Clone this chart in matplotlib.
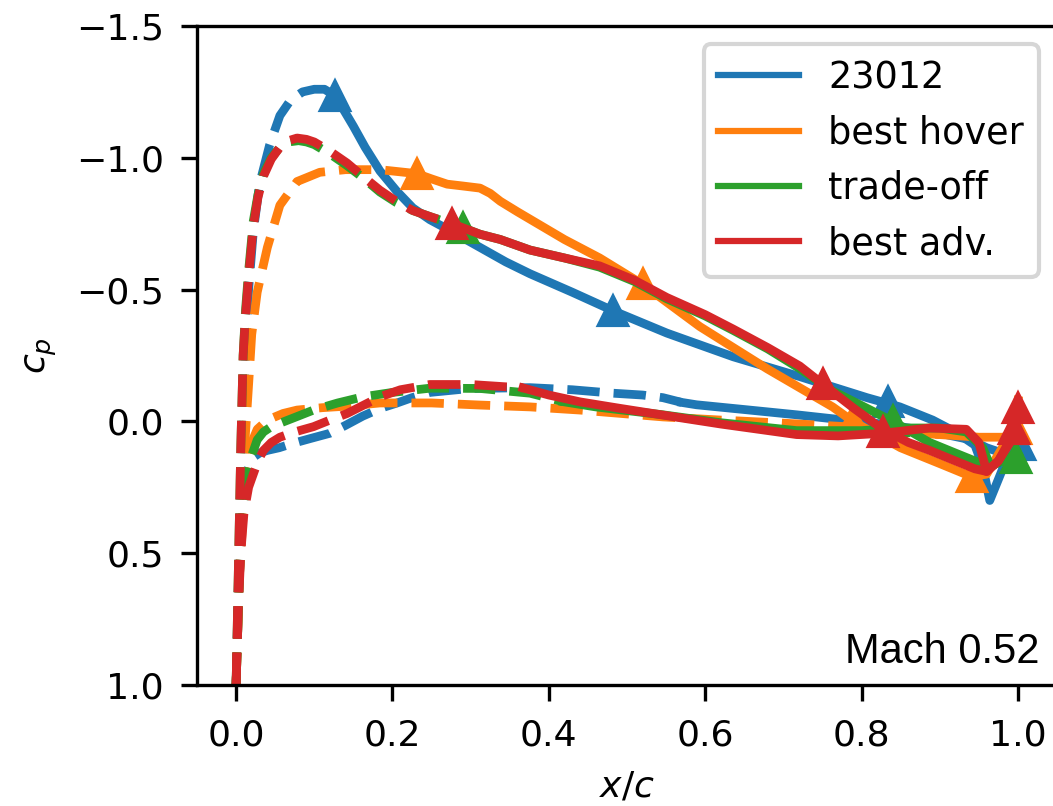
import matplotlib
matplotlib.use("Agg")
import numpy as np
from matplotlib import pyplot as plt
from matplotlib.lines import Line2D

# pressure distributions, Mach 0.52
names = ['23012', 'best hover', 'trade-off', 'best adv.']
colors = ['#1f77b4', '#ff7f0e', '#2ca02c', '#d62728']

# 23012
blue_up_x = [0.0, 0.003, 0.007, 0.011, 0.016, 0.022, 0.03, 0.043, 0.056, 0.07, 0.085, 0.1, 0.113, 0.127,
             0.138, 0.15, 0.165, 0.184, 0.205, 0.226, 0.248, 0.27, 0.312, 0.345, 0.376, 0.43, 0.482,
             0.551, 0.636, 0.721, 0.807, 0.849, 0.891, 0.92, 0.945, 0.955, 0.964, 0.975, 0.99, 1.0]
blue_up_cp = [1.0, 0.6, 0.2, -0.2, -0.5, -0.72, -0.9, -1.05, -1.16, -1.22, -1.25, -1.26, -1.26, -1.235,
              -1.18, -1.12, -1.04, -0.95, -0.875, -0.81, -0.765, -0.73, -0.66, -0.605, -0.56, -0.49,
              -0.42, -0.335, -0.245, -0.17, -0.09, -0.055, -0.005, 0.04, 0.09, 0.17, 0.3, 0.22, 0.11, 0.08]
blue_lo_x = [0.0, 0.004, 0.008, 0.013, 0.02, 0.03, 0.04, 0.055, 0.073, 0.095, 0.12, 0.14, 0.162, 0.185,
             0.206, 0.225, 0.248, 0.3, 0.376, 0.43, 0.482, 0.52, 0.546, 0.57, 0.589, 0.65, 0.717, 0.763,
             0.8, 0.85, 0.9, 0.94, 0.96, 0.98, 1.0]
blue_lo_cp = [1.0, 0.6, 0.35, 0.2, 0.14, 0.12, 0.11, 0.1, 0.083, 0.065, 0.045, 0.015, -0.02, -0.05,
              -0.07, -0.09, -0.11, -0.125, -0.128, -0.12, -0.107, -0.1, -0.09, -0.072, -0.063, -0.045,
              -0.025, -0.01, 0.0, 0.02, 0.045, 0.07, 0.1, 0.12, 0.1]
blue_tr = [0.127, 0.57]
blue_mk_x = [0.127, 0.482, 0.834, 1.003]
blue_mk_cp = [-1.235, -0.42, -0.075, 0.09]

# best hover
orange_up_x = [0.0, 0.004, 0.008, 0.012, 0.016, 0.02, 0.027, 0.04, 0.056, 0.078, 0.107, 0.14, 0.184,
               0.231, 0.25, 0.27, 0.29, 0.312, 0.325, 0.338, 0.36, 0.38, 0.42, 0.465, 0.52, 0.593, 0.679,
               0.763, 0.789, 0.85, 0.9, 0.941, 0.96, 0.98, 0.995, 1.0]
orange_up_cp = [1.0, 0.6, 0.3, 0.045, -0.14, -0.33, -0.49, -0.66, -0.82, -0.91, -0.945, -0.955, -0.955,
                -0.94, -0.92, -0.9, -0.893, -0.885, -0.865, -0.835, -0.795, -0.76, -0.69, -0.62, -0.52,
                -0.36, -0.2, -0.055, 0.0, 0.1, 0.16, 0.21, 0.2, 0.1, 0.0, -0.08]
orange_lo_x = [0.0, 0.004, 0.009, 0.014, 0.02, 0.027, 0.04, 0.06, 0.078, 0.11, 0.142, 0.184, 0.25, 0.312,
               0.376, 0.44, 0.546, 0.62, 0.696, 0.78, 0.85, 0.9, 0.95, 0.98, 1.0]
orange_lo_cp = [1.0, 0.6, 0.35, 0.2, 0.08, 0.03, -0.005, -0.03, -0.043, -0.052, -0.058, -0.07, -0.07,
                -0.062, -0.055, -0.043, -0.017, -0.005, 0.006, 0.02, 0.04, 0.05, 0.06, 0.06, 0.05]
orange_tr = [0.231, 0.9]
orange_mk_x = [0.231, 0.52, 0.789, 0.941, 0.998]
orange_mk_cp = [-0.94, -0.52, 0.0, 0.21, 0.03]

# trade-off
green_up_x = [0.0, 0.002, 0.004, 0.006, 0.009, 0.012, 0.016, 0.022, 0.028, 0.035, 0.045, 0.056, 0.067,
              0.08, 0.09, 0.1, 0.12, 0.142, 0.162, 0.184, 0.205, 0.226, 0.25, 0.29, 0.312, 0.338, 0.376,
              0.42, 0.465, 0.51, 0.551, 0.6, 0.636, 0.68, 0.721, 0.76, 0.8, 0.84, 0.887, 0.92, 0.945,
              0.965, 0.98, 1.0]
green_up_cp = [1.0, 0.7, 0.4, 0.1, -0.25, -0.42, -0.57, -0.76, -0.86, -0.94, -1.0, -1.04, -1.06,
               -1.065, -1.06, -1.05, -1.015, -0.97, -0.925, -0.87, -0.83, -0.8, -0.775, -0.735, -0.71,
               -0.69, -0.65, -0.62, -0.585, -0.53, -0.465, -0.4, -0.345, -0.275, -0.2, -0.12, -0.06,
               0.0, 0.08, 0.12, 0.15, 0.17, 0.15, 0.13]
green_lo_x = [0.0, 0.003, 0.006, 0.01, 0.015, 0.02, 0.027, 0.035, 0.045, 0.056, 0.075, 0.099, 0.13,
              0.162, 0.2, 0.248, 0.312, 0.376, 0.418, 0.46, 0.546, 0.62, 0.717, 0.8, 0.85, 0.9, 0.934,
              0.955, 0.965, 0.98, 1.0]
green_lo_cp = [1.0, 0.7, 0.45, 0.3, 0.2, 0.13, 0.07, 0.04, 0.02, 0.007, -0.015, -0.043, -0.07, -0.093,
               -0.11, -0.126, -0.125, -0.107, -0.075, -0.055, -0.025, 0.005, 0.035, 0.035, 0.025, 0.025,
               0.04, 0.1, 0.17, 0.15, 0.12]
green_tr = [0.29, 0.418]
green_mk_x = [0.29, 0.84, 0.997]
green_mk_cp = [-0.735, 0.0, 0.14]

# best adv.
red_up_x = [0.0, 0.002, 0.004, 0.006, 0.009, 0.012, 0.016, 0.022, 0.028, 0.035, 0.045, 0.056, 0.067,
            0.078, 0.09, 0.1, 0.12, 0.142, 0.162, 0.184, 0.205, 0.226, 0.25, 0.276, 0.312, 0.338, 0.376,
            0.42, 0.465, 0.51, 0.551, 0.6, 0.636, 0.68, 0.721, 0.751, 0.79, 0.827, 0.86, 0.887, 0.92,
            0.945, 0.96, 0.975, 0.99, 1.0]
red_up_cp = [1.0, 0.7, 0.4, 0.1, -0.25, -0.4, -0.55, -0.74, -0.85, -0.93, -0.995, -1.04, -1.065, -1.075,
             -1.07, -1.06, -1.025, -0.98, -0.93, -0.877, -0.835, -0.8, -0.775, -0.75, -0.71, -0.69,
             -0.65, -0.62, -0.59, -0.535, -0.47, -0.405, -0.35, -0.28, -0.21, -0.14, -0.05, 0.03, 0.08,
             0.11, 0.15, 0.18, 0.19, 0.15, 0.07, -0.02]
red_lo_x = [0.0, 0.003, 0.006, 0.01, 0.016, 0.022, 0.028, 0.035, 0.045, 0.056, 0.075, 0.099, 0.12,
            0.142, 0.162, 0.184, 0.21, 0.248, 0.3, 0.367, 0.4, 0.44, 0.49, 0.546, 0.62, 0.717, 0.77,
            0.827, 0.887, 0.934, 0.95, 0.96, 0.975, 0.99, 1.0]
red_lo_cp = [1.0, 0.7, 0.5, 0.35, 0.25, 0.2, 0.15, 0.11, 0.08, 0.06, 0.04, 0.02, -0.005, -0.03, -0.06,
             -0.093, -0.12, -0.14, -0.14, -0.127, -0.1, -0.074, -0.05, -0.024, 0.01, 0.05, 0.055, 0.045,
             0.025, 0.03, 0.08, 0.19, 0.15, 0.08, 0.04]
red_tr = [0.276, 0.367]
red_mk_x = [0.276, 0.751, 0.827, 0.995, 1.0]
red_mk_cp = [-0.75, -0.14, 0.04, 0.03, -0.05]

series = [
    (blue_up_x, blue_up_cp, blue_lo_x, blue_lo_cp, blue_tr, blue_mk_x, blue_mk_cp),
    (orange_up_x, orange_up_cp, orange_lo_x, orange_lo_cp, orange_tr, orange_mk_x, orange_mk_cp),
    (green_up_x, green_up_cp, green_lo_x, green_lo_cp, green_tr, green_mk_x, green_mk_cp),
    (red_up_x, red_up_cp, red_lo_x, red_lo_cp, red_tr, red_mk_x, red_mk_cp),
]

fig = plt.figure(figsize=(1053 / 300, 806 / 300), dpi=300)
# right spine falls just outside the picture, as in the reference crop
ax = fig.add_axes([197 / 1053, 121 / 806, 860 / 1053, 659 / 806])

lw = 2.1
for (ux, ucp, lx, lcp, tr, mx, mcp), c in zip(series, colors):
    ux, ucp, lx, lcp = map(np.array, (ux, ucp, lx, lcp))
    # laminar part dashed, turbulent part solid
    for x, cp, xt in ((ux, ucp, tr[0]), (lx, lcp, tr[1])):
        lam = x <= xt
        turb = x >= xt
        ax.plot(x[lam], cp[lam], '--', color=c, lw=lw)
        ax.plot(x[turb], cp[turb], '-', color=c, lw=lw)
    ax.plot(mx, mcp, '^', color=c, ms=6.5, ls='none')

ax.set_xlim(-0.05, 1.05)
ax.set_ylim(1.0, -1.5)
ax.set_xticks([0.0, 0.2, 0.4, 0.6, 0.8, 1.0])
ax.set_yticks([-1.5, -1.0, -0.5, 0.0, 0.5, 1.0])
ax.tick_params(labelsize=8.7, length=3.8, width=0.8, pad=4.2)
ax.set_xlabel('$x/c$', fontsize=8.7)
ax.set_ylabel('$c_p$', fontsize=8.7)

handles = [Line2D([], [], color=c, lw=1.5) for c in colors]
ax.legend(handles, names, loc='upper right', fontsize=8.8, handlelength=2.2)

ax.text(0.98, 0.02, 'Mach 0.52', transform=ax.transAxes, ha='right', va='bottom',
        fontsize=10, family=['Liberation Sans', 'DejaVu Sans'])

fig.savefig('out.png', dpi=300)
